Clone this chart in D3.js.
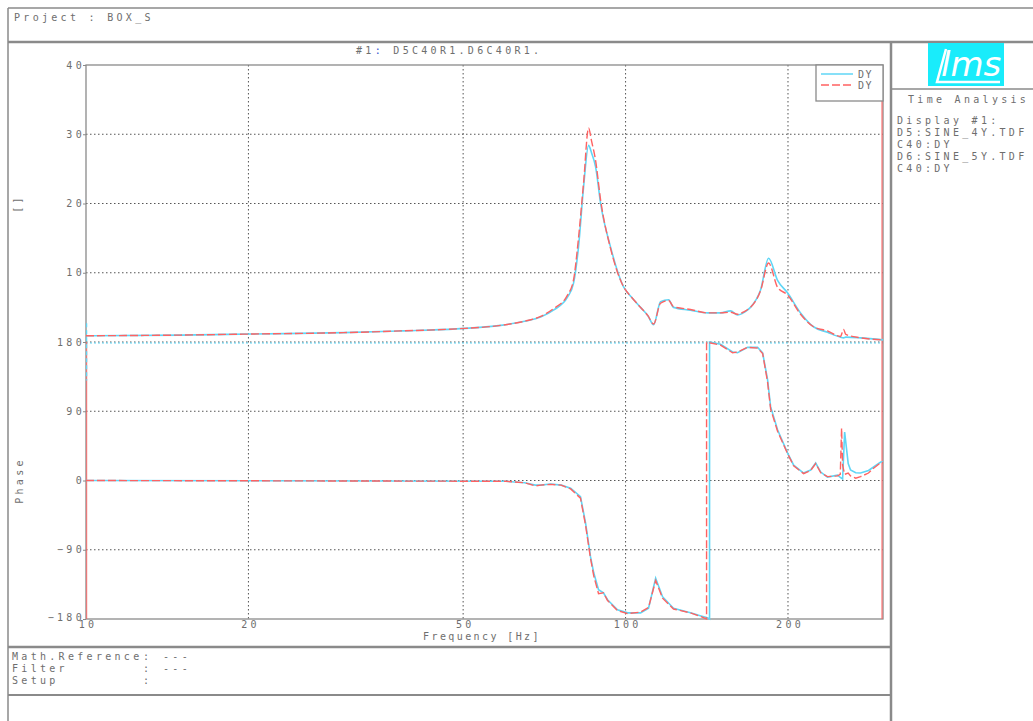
<!DOCTYPE html>
<html>
<head>
<meta charset="utf-8">
<script src="https://cdn.jsdelivr.net/npm/d3@7"></script>
<style>
  body { margin: 0; background: #fff; }
  text { font-family: "DejaVu Sans Mono", monospace; font-size: 10px; fill: #6e6e6e; letter-spacing: 3.3px; }
</style>
</head>
<body>
<script>
// ---- data ----
const freqTicks = [10, 20, 50, 100, 200];
const magTicks = [10, 20, 30, 40];
const phaseTicks = [-180, -90, 0, 90, 180];

const magFreq = [10, 15, 20.2, 30, 38.3, 48.6, 58.7, 65, 69.6, 73.5, 78.1, 80.1, 81.8, 83.6, 85.4, 86.5, 88, 89.9, 93.8, 99.1,
  102.5, 106.6, 110, 112.7, 116.1, 120.2, 122.7, 131.9, 141.9, 150, 156.5, 161.3, 166, 170.4, 177.9, 184.1, 191.3, 199.6, 211, 223,
  236.7, 250.2, 253.5, 256, 272.6, 300];
const magD5 = [0.9, 1.0, 1.15, 1.35, 1.6, 1.9, 2.4, 3.0, 3.6, 4.6, 6.5, 8.5, 13.7, 22.4, 28.4, 27.3, 25.3, 20.0, 13.7, 8.0,
  6.5, 5.0, 3.8, 2.5, 5.8, 6.1, 5.0, 4.6, 4.2, 4.2, 4.5, 3.9, 4.3, 5.0, 7.5, 12.1, 8.9, 7.1, 4.2, 2.2,
  1.4, 0.7, 0.6, 0.7, 0.6, 0.3];
const magD6 = [0.9, 1.0, 1.15, 1.35, 1.6, 1.9, 2.4, 3.0, 3.7, 4.8, 6.8, 9.0, 15, 23, 30.9, 29.0, 26.2, 20.5, 13.5, 8.0,
  6.5, 5.0, 3.8, 2.6, 5.6, 6.0, 5.1, 4.7, 4.2, 4.2, 4.3, 4.0, 4.4, 5.0, 7.4, 11.4, 7.9, 6.8, 4.0, 2.2,
  1.6, 0.8, 1.8, 1.1, 0.6, 0.3];

const phaseFreq = [10, 60, 65, 68, 69.6, 72.6, 76, 79.1, 82.5, 84.3, 86.1, 87.3, 89.1, 91, 92.6, 96.6, 100.9, 106.6, 110.3, 113.7,
  117.1, 122.7, 131.9, 138, 141.3, 141.3, 143.1, 143.1, 150, 157.9, 161.3, 168.3, 175.7, 179.5, 183.3, 185.7, 191.3, 199.6, 204.9, 213.8,
  220.3, 225.1, 230, 236.7, 247.1, 250, 251.4, 252.5, 254.7, 258.6, 261.2, 267, 272.6, 282, 288.2, 297, 300];
const phaseD5 = [0, -1, -3, -6, -6, -4.5, -6, -10, -21, -55, -99, -120, -142, -146, -155, -168, -172, -172, -166, -127,
  -151, -166, -172, -176, -178, -178, -180, 180, 177, 167, 166, 173, 173, 166, 131, 96, 66, 36, 20, 9.7,
  13.6, 22.7, 11, 4.5, 7, 4, 3, 2, 63, 22, 13.6, 10, 9.7, 13, 17.5, 24, 24];
const phaseD6 = [0, -1, -3, -7, -6, -5, -6, -11, -23, -58, -101, -124, -147, -146, -156, -169, -173, -171, -165, -130,
  -153, -167, -172, -177, -180, 180, 179, 179, 176, 166, 167, 173, 172, 165, 128, 93, 64, 35, 19, 9,
  13, 22, 10, 5, 6, 8, 68, 20, 8, 9.7, 6, 3, 5, 9.7, 16, 23, 23];

const sideLines = ['Display #1:', 'D5:SINE_4Y.TDF', 'C40:DY', 'D6:SINE_5Y.TDF', 'C40:DY'];
const infoLines = [['Math.Reference', '---'], ['Filter', '---'], ['Setup', '']];

// ---- layout ----
const width = 1033;
const height = 721;
const pLeft = 86, pRight = 883, pTop = 65, pMid = 342, pBottom = 619;
const cyan = '#5fd6f6';
const red = '#ff6262';
const frame = '#8a8a8a';

const svg = d3.select('body')
  .append('svg')
  .attr('width', width)
  .attr('height', height);

const x = d3.scaleLog().domain([10, 300]).range([pLeft, pRight]);
const yMag = d3.scaleLinear().domain([0, 40]).range([pMid, pTop]);
const yPhase = d3.scaleLinear().domain([-180, 180]).range([pBottom, pMid]);

// page frame
function hline(y0, x0, x1, w) {
  svg.append('line').attr('x1', x0).attr('x2', x1).attr('y1', y0).attr('y2', y0)
    .attr('stroke', frame).attr('stroke-width', w || 1.5);
}
function vline(x0, y0, y1, w) {
  svg.append('line').attr('x1', x0).attr('x2', x0).attr('y1', y0).attr('y2', y1)
    .attr('stroke', frame).attr('stroke-width', w || 1.5);
}
hline(8, 8, width);
hline(42, 8, width, 2.5);
vline(8, 8, height);
vline(891, 42, height, 2.5);
hline(89, 891, width);
hline(647, 8, 891, 2.5);
hline(695, 8, 891, 2);

svg.append('text').attr('x', 14).attr('y', 21).text('Project : BOX_S');

// title
const title = svg.append('text').attr('x', 356).attr('y', 54);
title.append('tspan').text('#1');
title.append('tspan').style('fill', '#3050d0').text(':');
title.append('tspan').text(' D5C40R1.D6C40R1.');

// logo
svg.append('rect').attr('x', 928).attr('y', 43).attr('width', 76).attr('height', 43).attr('fill', '#19ecfb');
svg.append('text').attr('x', 941).attr('y', 76)
  .style('font-family', 'DejaVu Sans').style('font-style', 'italic').style('font-size', '34px')
  .style('letter-spacing', '0px').style('fill', '#fff').text('lms');
svg.append('path').attr('d', 'M946,49 L937,82 L1000,82').attr('stroke', '#fff').attr('stroke-width', 2.5).attr('fill', 'none');

svg.append('text').attr('x', 908).attr('y', 103).text('Time Analysis');
svg.selectAll('.side').data(sideLines).enter().append('text')
  .attr('x', 897).attr('y', (d, i) => 124 + i * 12).text(d => d);

// info box
infoLines.forEach((d, i) => {
  const yy = 660 + i * 12;
  svg.append('text').attr('x', 12).attr('y', yy).text(d[0]);
  svg.append('text').attr('x', 143).attr('y', yy).text(':');
  svg.append('text').attr('x', 163).attr('y', yy).text(d[1]);
});

// grid
const grid = svg.append('g').attr('stroke', '#555').attr('stroke-width', 1).attr('stroke-dasharray', '1.5,2.5');
freqTicks.filter(f => f > 10).forEach(f => {
  grid.append('line').attr('x1', x(f)).attr('x2', x(f)).attr('y1', pTop).attr('y2', pBottom);
});
magTicks.filter(v => v < 40).forEach(v => {
  grid.append('line').attr('x1', pLeft).attr('x2', pRight).attr('y1', yMag(v)).attr('y2', yMag(v));
});
phaseTicks.filter(v => v > -180).forEach(v => {
  grid.append('line').attr('x1', pLeft).attr('x2', pRight).attr('y1', yPhase(v)).attr('y2', yPhase(v));
});
svg.append('line').attr('x1', pLeft).attr('x2', pRight).attr('y1', pMid + 1).attr('y2', pMid + 1)
  .attr('stroke', cyan).attr('stroke-width', 1.2).attr('stroke-dasharray', '2,2');

// axes
const axMag = svg.append('g').attr('transform', `translate(${pLeft},0)`)
  .call(d3.axisLeft(yMag).tickValues(magTicks).tickSize(3).tickPadding(1));
const axPhase = svg.append('g').attr('transform', `translate(${pLeft},0)`)
  .call(d3.axisLeft(yPhase).tickValues(phaseTicks).tickSize(3).tickPadding(1));
const axX = svg.append('g').attr('transform', `translate(0,${pBottom})`)
  .call(d3.axisBottom(x).tickValues(freqTicks).tickFormat(d3.format('d')).tickSize(0).tickPadding(2));
[axMag, axPhase, axX].forEach(g => {
  g.select('.domain').remove();
  g.selectAll('line').attr('stroke', frame);
  g.selectAll('text').attr('fill', null).attr('font-size', null).attr('font-family', null);
});
axX.selectAll('text').attr('dx', '1.6px');
axMag.selectAll('text').attr('dx', '3px');
axPhase.selectAll('text').attr('dx', '3px');
axPhase.selectAll('text').filter(d => d === -180).attr('dy', '0.1em');

svg.append('rect').attr('x', pLeft).attr('y', pTop).attr('width', pRight - pLeft).attr('height', pBottom - pTop)
  .attr('fill', 'none').attr('stroke', frame).attr('stroke-width', 1.3);

svg.append('text').attr('transform', `translate(21,${yMag(20)}) rotate(-90)`).attr('text-anchor', 'middle').text('[]');
svg.append('text').attr('transform', `translate(23,${yPhase(0)}) rotate(-90)`).attr('text-anchor', 'middle').text('Phase');
svg.append('text').attr('x', 482).attr('y', 640).attr('text-anchor', 'middle').style('letter-spacing', '2.4px').text('Frequency [Hz]');

// curves
svg.append('clipPath').attr('id', 'clip').append('rect')
  .attr('x', pLeft).attr('y', pTop - 4).attr('width', pRight - pLeft).attr('height', pBottom - pTop + 8);
const plot = svg.append('g').attr('clip-path', 'url(#clip)');

const magLine = d3.line().x(d => x(d[0])).y(d => yMag(d[1])).curve(d3.curveMonotoneX);
const phaseLine = d3.line().x(d => x(d[0])).y(d => yPhase(d[1]));

// edge strokes of the dashed trace
plot.append('line').attr('x1', x(10) + 0.5).attr('x2', x(10) + 0.5).attr('y1', pMid).attr('y2', pBottom)
  .attr('stroke', red).attr('stroke-width', 1.5).attr('opacity', 0.7);
plot.append('line').attr('x1', x(300) - 1).attr('x2', x(300) - 1).attr('y1', pTop).attr('y2', pBottom)
  .attr('stroke', red).attr('stroke-width', 1.5).attr('opacity', 0.7);
plot.append('line').attr('x1', x(10) + 0.5).attr('x2', x(10) + 0.5).attr('y1', yMag(2.7)).attr('y2', yPhase(130))
  .attr('stroke', cyan).attr('stroke-width', 1.5).attr('stroke-dasharray', '4,3');

plot.append('path').datum(d3.zip(magFreq, magD5)).attr('d', magLine)
  .attr('fill', 'none').attr('stroke', cyan).attr('stroke-width', 1.6);
plot.append('path').datum(d3.zip(magFreq, magD6)).attr('d', magLine)
  .attr('fill', 'none').attr('stroke', red).attr('stroke-width', 1.4).attr('stroke-dasharray', '8,3');
plot.append('path').datum(d3.zip(phaseFreq, phaseD5)).attr('d', phaseLine)
  .attr('fill', 'none').attr('stroke', cyan).attr('stroke-width', 1.6);
plot.append('path').datum(d3.zip(phaseFreq, phaseD6)).attr('d', phaseLine)
  .attr('fill', 'none').attr('stroke', red).attr('stroke-width', 1.4).attr('stroke-dasharray', '8,3');

// legend
svg.append('rect').attr('x', 816).attr('y', pTop).attr('width', pRight - 816).attr('height', 36)
  .attr('fill', '#fff').attr('stroke', frame).attr('stroke-width', 1.3);
const legend = [[cyan, null], [red, '8,3']];
legend.forEach((d, i) => {
  const yy = 74 + i * 11;
  svg.append('line').attr('x1', 821).attr('x2', 853).attr('y1', yy).attr('y2', yy)
    .attr('stroke', d[0]).attr('stroke-width', 1.5).attr('stroke-dasharray', d[1]);
  svg.append('text').attr('x', 858).attr('y', yy + 3.5).style('letter-spacing', '1.5px').text('DY');
});
</script>
</body>
</html>
